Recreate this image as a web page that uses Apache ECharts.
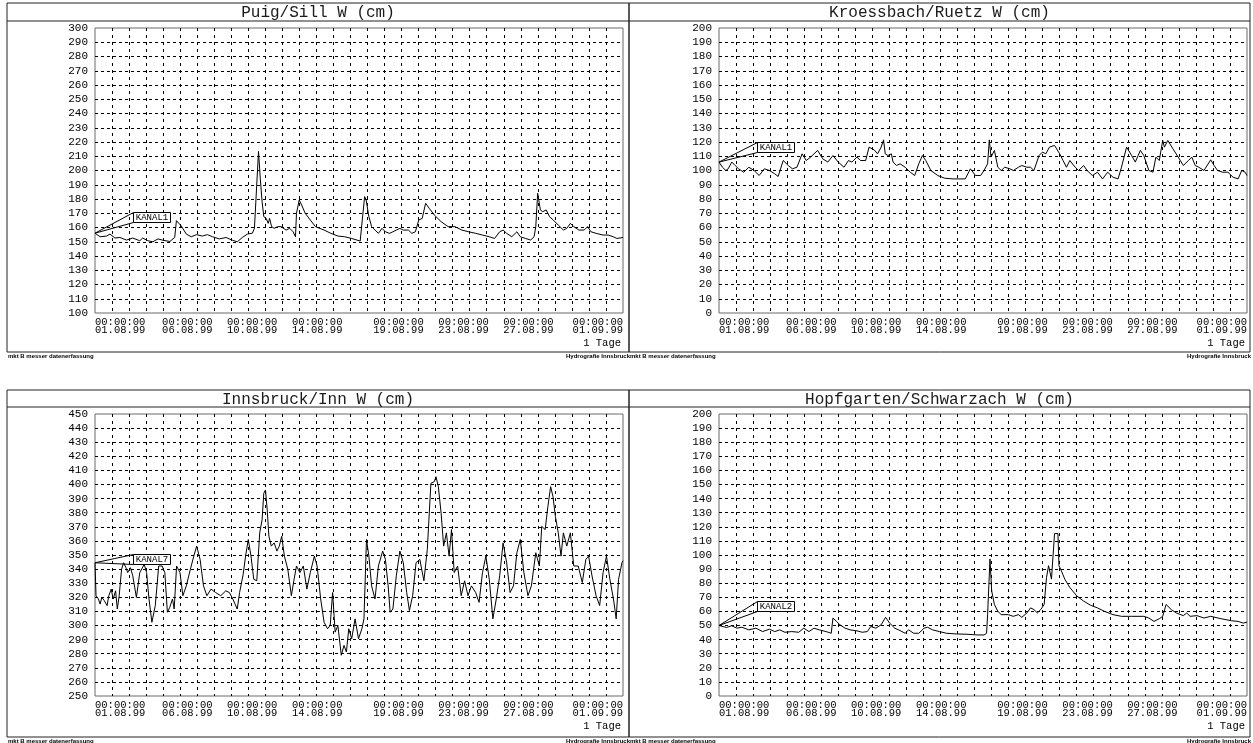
<!DOCTYPE html>
<html>
<head>
<meta charset="utf-8">
<script src="https://cdn.jsdelivr.net/npm/echarts@6/dist/echarts.min.js"></script>
<style>
  html, body { margin: 0; padding: 0; background: #fff; }
  #chart { width: 1253px; height: 743px; }
</style>
</head>
<body>
<div id="chart"></div>
<script>
// Water level W (cm), August 1999. Each point: [days since 01.08.99 00:00, level]
const puigSill = [
  [0,156],[0.3,153.5],[0.68,154],[0.88,155.4],[1.17,152.6],[1.46,153],[1.85,151.2],[2.22,152.6],
  [2.63,150.7],[2.8,152.6],[3.1,150.7],[3.4,150],[3.7,152],[4.0,151],[4.4,150.2],[4.68,153],
  [4.78,164.8],[5.07,161],[5.36,155.4],[5.65,153.5],[5.96,155],[6.3,154],[6.6,155],[6.9,153.5],
  [7.3,152],[7.7,153],[8.07,151],[8.36,150],[8.65,153],[8.95,155.4],[9.24,156],[9.36,159.4],
  [9.46,160.6],[9.6,213.4],[9.71,193.4],[9.81,178.2],[9.91,167.6],[10.05,166.4],[10.17,162.9],
  [10.25,166.4],[10.37,160.6],[10.52,159.4],[10.72,160.6],[10.92,160.6],[11.02,159.4],[11.22,158.2],
  [11.43,159.4],[11.63,157],[11.77,153.5],[11.83,170],[11.99,179.3],[12.13,175.8],[12.34,170],
  [12.64,165.3],[12.94,160.6],[13.45,158.2],[13.85,155.9],[14.26,154],[14.66,153.5],[15.07,152.3],
  [15.57,150.5],[15.67,150],[15.83,181.7],[15.92,179.3],[16.08,167.6],[16.24,160.6],[16.44,158.2],
  [16.64,155.9],[16.85,159.4],[17.05,157],[17.29,155.9],[17.49,157],[17.69,158.2],[17.9,159.4],
  [18.1,158.2],[18.4,158.2],[18.6,155.9],[18.81,157],[19.01,165.3],[19.21,166.4],[19.41,177],
  [19.62,173.5],[19.92,168.8],[20.32,164.1],[20.73,160.6],[21.13,160.6],[21.54,158.2],[21.94,157],
  [22.35,155.9],[22.75,154.7],[23.15,153.5],[23.46,152.3],[23.76,157],[23.96,158.2],[24.17,155.9],
  [24.47,153.5],[24.77,157],[24.97,153.5],[25.28,152.3],[25.58,151.2],[25.78,153.5],[25.88,160.6],
  [25.99,184],[26.15,172.3],[26.29,171.1],[26.49,172.3],[26.69,167.6],[26.9,165.3],[27.2,161.7],
  [27.5,158.2],[27.7,159.4],[27.91,162.9],[28.11,160.6],[28.41,158.2],[28.72,158.2],[28.92,160.6],
  [29.12,157],[29.42,155.9],[29.83,154.7],[30.13,154.7],[30.43,153.5],[30.64,152.3],[31,153]
];

const kroessbachRuetz = [
  [0,105.9],[0.2,102.3],[0.4,100],[0.54,101.2],[0.75,105.9],[0.95,103.5],[1.15,101.2],[1.45,98.8],
  [1.75,102.3],[2.06,100],[2.36,96.5],[2.66,101.2],[2.96,100],[3.27,97.7],[3.47,95.8],[3.77,107],
  [4.07,103.5],[4.31,101.2],[4.58,102.3],[4.88,111.7],[5.12,107],[5.38,109.4],[5.79,114.1],[6.09,108.2],
  [6.39,105.9],[6.69,110.5],[7.0,105.9],[7.34,102.3],[7.6,107],[7.8,105.9],[8.1,109.4],[8.31,107],
  [8.61,107],[8.81,116.4],[9.11,114.5],[9.31,111.7],[9.52,116.4],[9.66,121.5],[9.76,111.7],[9.92,110.5],
  [10.12,111.7],[10.22,105.9],[10.42,103.5],[10.63,104.7],[10.93,102.3],[11.23,98.8],[11.49,96.5],
  [11.73,104.7],[11.94,110.5],[12.14,107],[12.44,100],[12.84,96.5],[13.25,94.6],[13.75,94.1],
  [14.15,94.1],[14.46,94.1],[14.76,101.2],[15.06,96.5],[15.36,96.5],[15.56,100],[15.77,104.7],
  [15.87,121.5],[15.97,109.4],[16.17,114.1],[16.37,102.3],[16.57,100],[16.77,102.3],[17.08,101.2],
  [17.28,100],[17.58,102.3],[17.78,103.5],[18.08,102.3],[18.29,102.3],[18.49,100],[18.79,110.5],
  [18.99,112.9],[19.19,111.7],[19.4,116.4],[19.7,117.6],[20.0,111.7],[20.2,107],[20.4,102.3],
  [20.6,107],[20.91,102.3],[21.11,100],[21.41,103.5],[21.61,100],[21.92,96.5],[22.22,98.8],
  [22.52,94.1],[22.82,98.8],[23.13,95.3],[23.43,94.1],[23.63,102.3],[23.93,116.4],[24.23,110.5],
  [24.44,105.9],[24.74,114.1],[24.94,110.5],[25.24,100],[25.48,98.8],[25.65,109.4],[25.85,107],
  [26.05,121.1],[26.15,116.4],[26.35,121.1],[26.65,115.2],[26.96,109.4],[27.26,103.5],[27.56,107],
  [27.76,109.4],[27.96,103.5],[28.17,102.3],[28.47,100],[28.87,107.5],[29.07,103.5],[29.27,100],
  [29.58,98.8],[29.88,98.8],[30.18,95.3],[30.48,94.1],[30.69,100],[30.89,98.8],[31,96.5]
];

const innsbruckInn = [
  [0,344.5],[0.06,321.1],[0.2,318.8],[0.3,315.2],[0.4,319.9],[0.55,317.6],[0.71,314.1],[0.81,321.1],
  [0.95,325.8],[1.07,318.8],[1.21,324.6],[1.31,311.7],[1.42,321.1],[1.56,339.9],[1.68,344.5],[1.82,341],
  [1.92,337.5],[2.08,341],[2.22,335.2],[2.43,319.9],[2.63,337.5],[2.89,343.4],[3.03,337.5],[3.17,318.8],
  [3.34,302.3],[3.54,314.1],[3.74,342.2],[3.94,342.2],[4.1,337.5],[4.25,309.4],[4.39,312.9],[4.55,318.8],
  [4.65,311.7],[4.79,342.2],[4.99,337.5],[5.16,321.1],[5.36,328.1],[5.6,339.9],[5.8,349.2],[5.97,356.3],
  [6.17,346.9],[6.37,328.1],[6.57,321.1],[6.81,325.8],[7.08,323.4],[7.38,321.1],[7.68,324.6],[7.89,323.4],
  [8.09,318.8],[8.35,311.7],[8.49,323.4],[8.7,336.3],[8.84,349.2],[9.0,361],[9.16,349.2],[9.32,332.8],
  [9.5,331.7],[9.67,365.7],[9.81,375],[9.91,393.8],[10.01,396.1],[10.11,382.1],[10.21,363.3],[10.35,356.3],
  [10.52,358.6],[10.68,352.8],[10.82,356.3],[10.96,363.3],[11.12,349.2],[11.32,339.9],[11.53,321.1],
  [11.69,332.8],[11.83,342.2],[12.03,337.5],[12.23,342.2],[12.44,325.8],[12.64,337.5],[12.88,349.2],
  [13.04,342.2],[13.25,318.8],[13.45,302.3],[13.65,297.7],[13.81,300],[13.95,323.4],[14.1,295.3],
  [14.26,300],[14.46,278.9],[14.62,285.9],[14.76,281.2],[14.9,297.7],[15.07,290.6],[15.27,304.7],
  [15.47,290.6],[15.67,297.7],[15.79,304.7],[15.94,361],[16.08,349.2],[16.24,328.1],[16.44,318.8],
  [16.64,342.2],[16.89,352.8],[17.05,346.9],[17.21,328.1],[17.33,309.4],[17.49,311.7],[17.69,335.2],
  [17.9,352.8],[18.1,344.5],[18.3,323.4],[18.46,310.6],[18.65,321.1],[18.85,344.5],[19.07,346.9],
  [19.31,331.7],[19.51,353.9],[19.72,400.8],[19.92,402],[20.02,405.5],[20.16,398.5],[20.32,379.7],
  [20.47,356.3],[20.63,365.7],[20.79,349.2],[20.93,368],[21.09,337.5],[21.29,342.2],[21.5,321.1],
  [21.7,331.7],[21.9,321.1],[22.1,328.1],[22.35,323.4],[22.55,316.4],[22.75,337.5],[22.95,349.2],
  [23.15,332.8],[23.36,304.7],[23.56,318.8],[23.76,335.2],[23.96,358.6],[24.17,344.5],[24.37,323.4],
  [24.57,328.1],[24.77,351.6],[24.97,361],[25.18,337.5],[25.42,321.1],[25.62,328.1],[25.88,351.6],
  [26.09,342.2],[26.23,370.3],[26.43,368],[26.59,384.4],[26.75,398.5],[26.89,391.4],[27.03,377.4],
  [27.2,365.7],[27.36,349.2],[27.5,365.7],[27.7,356.3],[27.91,365.7],[28.11,342.2],[28.37,342.2],
  [28.61,330.5],[28.82,346.9],[28.98,349.2],[29.18,335.2],[29.42,321.1],[29.63,314.1],[29.83,337.5],
  [30.03,349.2],[30.23,332.8],[30.44,318.8],[30.6,304.7],[30.74,332.8],[30.94,344.5],[31,346]
];

const hopfgartenSchwarzach = [
  [0,50],[0.44,48.6],[0.75,49.8],[1.05,48.1],[1.35,48.8],[1.75,46.9],[2.16,48.1],[2.56,45.7],
  [2.96,47.4],[3.27,45.7],[3.57,46.9],[3.87,45.2],[4.27,45.7],[4.68,45.2],[4.98,48.1],[5.28,45.7],
  [5.58,48.1],[5.89,46.9],[6.29,45.7],[6.59,44.5],[6.69,55.3],[6.9,52.9],[7.1,50.5],[7.4,48.1],
  [7.7,46.9],[8.1,46.2],[8.41,45.2],[8.71,45.7],[8.91,49.3],[9.21,48.1],[9.52,50.5],[9.78,55.8],
  [10.02,51.7],[10.32,48.1],[10.63,46.4],[10.93,44.5],[11.13,46.9],[11.43,44.5],[11.73,44.5],
  [12.04,48.1],[12.24,48.8],[12.54,46.9],[12.94,45.7],[13.35,44.5],[13.95,44],[14.56,43.8],
  [15.16,43.3],[15.56,43.3],[15.71,44.5],[15.77,57.7],[15.91,97.2],[16.01,74.5],[16.17,64.9],
  [16.37,60.1],[16.57,57.7],[16.98,57.7],[17.28,56.5],[17.58,57.7],[17.78,55.8],[18.08,58.9],
  [18.29,62.5],[18.49,61.3],[18.69,58.9],[18.89,61.3],[19.09,64.9],[19.23,84.1],[19.35,92.4],
  [19.44,92.4],[19.52,82.9],[19.6,82.9],[19.7,115.2],[19.9,115.2],[19.96,92.4],[20.1,88.8],
  [20.3,82.9],[20.6,76.9],[21.01,70.9],[21.41,67.3],[21.81,64.4],[22.22,62.5],[22.62,60.1],
  [23.13,57.7],[23.63,56.5],[24.23,56.5],[24.94,56.5],[25.24,55.3],[25.54,52.9],[25.85,54.8],
  [26.05,56.5],[26.25,64.9],[26.55,61.3],[26.85,58.9],[27.26,57],[27.46,58.9],[27.66,56.5],
  [28.06,57],[28.47,55.3],[28.87,56.5],[28.97,55.3],[29.48,54.8],[30.08,53.4],[30.48,52.9],
  [30.79,51.7],[31,52.4]
];

const stationTitles = ['Puig/Sill W (cm)', 'Kroessbach/Ruetz W (cm)', 'Innsbruck/Inn W (cm)', 'Hopfgarten/Schwarzach W (cm)'];
const channelNames = ['KANAL1', 'KANAL1', 'KANAL7', 'KANAL2'];
const levelRanges = [[100, 300], [0, 200], [250, 450], [0, 200]];
const dateLabels = ['01.08.99', '06.08.99', '10.08.99', '14.08.99', '19.08.99', '23.08.99', '27.08.99', '01.09.99'];
const dateLabelDays = [0, 5.42, 9.23, 13.05, 17.82, 21.64, 25.45, 31];
const timeLabel = '00:00:00';
const spanLabel = '1 Tage';
const footerLeft = 'mkt B messer datenerfassung';
const footerRight = 'Hydrografie Innsbruck';

const seriesData = [puigSill, kroessbachRuetz, innsbruckInn, hopfgartenSchwarzach];

// ---- layout ----
const PANELS = [
  { x0: 7,   x1: 629,  y0: 3,   yRule: 21,  y1: 352, titleTop: 5 },
  { x0: 629, x1: 1250, y0: 3,   yRule: 21,  y1: 352, titleTop: 5 },
  { x0: 7,   x1: 629,  y0: 390, yRule: 407, y1: 737, titleTop: 392 },
  { x0: 629, x1: 1250, y0: 390, yRule: 407, y1: 737, titleTop: 392 }
];
const GRIDS = [
  { left: 95,  top: 28,  width: 528, height: 285 },
  { left: 719, top: 28,  width: 528, height: 285 },
  { left: 95,  top: 414, width: 528, height: 282 },
  { left: 719, top: 414, width: 528, height: 282 }
];
const CALLOUT = { dx: 38, w: 37, h: 10, dy: [-21, -20, -9, -25] };
const MONO = '"Liberation Mono", "DejaVu Sans Mono", monospace';

const chart = echarts.init(document.getElementById('chart'), null, { renderer: 'canvas' });

const option = {
  animation: false,
  backgroundColor: '#fff',
  title: stationTitles.map((t, i) => ({
    text: t,
    left: (PANELS[i].x0 + PANELS[i].x1) / 2,
    top: PANELS[i].titleTop,
    textAlign: 'center',
    padding: 0,
    textStyle: { fontFamily: MONO, fontSize: 16, fontWeight: 'normal', color: '#1a1a1a' }
  })),
  grid: GRIDS.map(g => Object.assign({
    show: true, borderColor: '#6a6a6a', borderWidth: 1, backgroundColor: 'transparent', containLabel: false
  }, g)),
  xAxis: GRIDS.map((g, i) => ({
    gridIndex: i,
    type: 'value',
    min: 0, max: 31, interval: 1,
    axisLine: { show: false },
    axisTick: { show: false },
    splitLine: { show: true, showMinLine: false, showMaxLine: false,
      lineStyle: { color: '#000', width: 1, type: [3, 4] } },
    axisLabel: {
      customValues: dateLabelDays,
      alignMinLabel: 'left',
      alignMaxLabel: 'right',
      margin: 5,
      fontFamily: MONO, fontSize: 10.5, lineHeight: 8, color: '#000',
      formatter: v => {
        let k = 0;
        dateLabelDays.forEach((d, j) => { if (Math.abs(d - v) < Math.abs(dateLabelDays[k] - v)) k = j; });
        return timeLabel + '\n' + dateLabels[k];
      }
    }
  })),
  yAxis: GRIDS.map((g, i) => ({
    gridIndex: i,
    type: 'value',
    min: levelRanges[i][0], max: levelRanges[i][1], interval: 10,
    axisLine: { show: false },
    axisTick: { show: false },
    splitLine: { show: true, showMinLine: false, showMaxLine: false,
      lineStyle: { color: '#000', width: 1, type: [3, 3] } },
    axisLabel: { margin: 7, fontFamily: MONO, fontSize: 11, color: '#000' }
  })),
  series: seriesData.map((d, i) => ({
    type: 'line',
    name: stationTitles[i],
    xAxisIndex: i, yAxisIndex: i,
    data: d,
    symbol: 'none',
    silent: true,
    lineStyle: { color: '#000', width: 1 }
  }))
};

chart.setOption(option);

// Panel frames, title rules, unit text and footers
const graphics = [];
PANELS.forEach((p, i) => {
  graphics.push({ type: 'rect', shape: { x: p.x0, y: p.y0, width: p.x1 - p.x0, height: p.y1 - p.y0 },
    style: { fill: null, stroke: '#222', lineWidth: 1 }, silent: true });
  graphics.push({ type: 'line', shape: { x1: p.x0, y1: p.yRule, x2: p.x1, y2: p.yRule },
    style: { stroke: '#222', lineWidth: 1 }, silent: true });
  const g = GRIDS[i];
  graphics.push({ type: 'text', x: g.left + g.width - 2, y: g.top + g.height + 30,
    style: { text: spanLabel, font: '10.5px ' + MONO, fill: '#000',
      align: 'right', textAlign: 'right', verticalAlign: 'middle', textVerticalAlign: 'middle' }, silent: true });
  graphics.push({ type: 'text', x: p.x0 + 1, y: p.y1 + 4.5,
    style: { text: footerLeft, font: 'bold 6px "Liberation Sans", Arial, sans-serif', fill: '#000',
      align: 'left', textAlign: 'left', verticalAlign: 'middle', textVerticalAlign: 'middle' }, silent: true });
  graphics.push({ type: 'text', x: p.x1 + 1, y: p.y1 + 4.5,
    style: { text: footerRight, font: 'bold 6px "Liberation Sans", Arial, sans-serif', fill: '#000',
      align: 'right', textAlign: 'right', verticalAlign: 'middle', textVerticalAlign: 'middle' }, silent: true });
});

// Channel callouts anchored at each series' first sample
seriesData.forEach((d, i) => {
  const tip = chart.convertToPixel({ seriesIndex: i }, d[0]);
  const bx = Math.round(tip[0] + CALLOUT.dx) + 0.5;
  const by = Math.round(tip[1] + CALLOUT.dy[i]) + 0.5;
  graphics.push({ type: 'polyline', silent: true,
    shape: { points: [[bx, by], [tip[0], tip[1]], [bx, by + CALLOUT.h]] },
    style: { stroke: '#000', lineWidth: 1, fill: null } });
  graphics.push({ type: 'rect', silent: true,
    shape: { x: bx, y: by, width: CALLOUT.w, height: CALLOUT.h },
    style: { fill: '#fff', stroke: '#000', lineWidth: 1 } });
  graphics.push({ type: 'text', silent: true, x: bx + CALLOUT.w / 2, y: by + CALLOUT.h / 2 + 0.5,
    style: { text: channelNames[i], font: '9px ' + MONO, fill: '#000',
      align: 'center', textAlign: 'center', verticalAlign: 'middle', textVerticalAlign: 'middle' } });
});

chart.setOption({ graphic: { elements: graphics } });
</script>
</body>
</html>
